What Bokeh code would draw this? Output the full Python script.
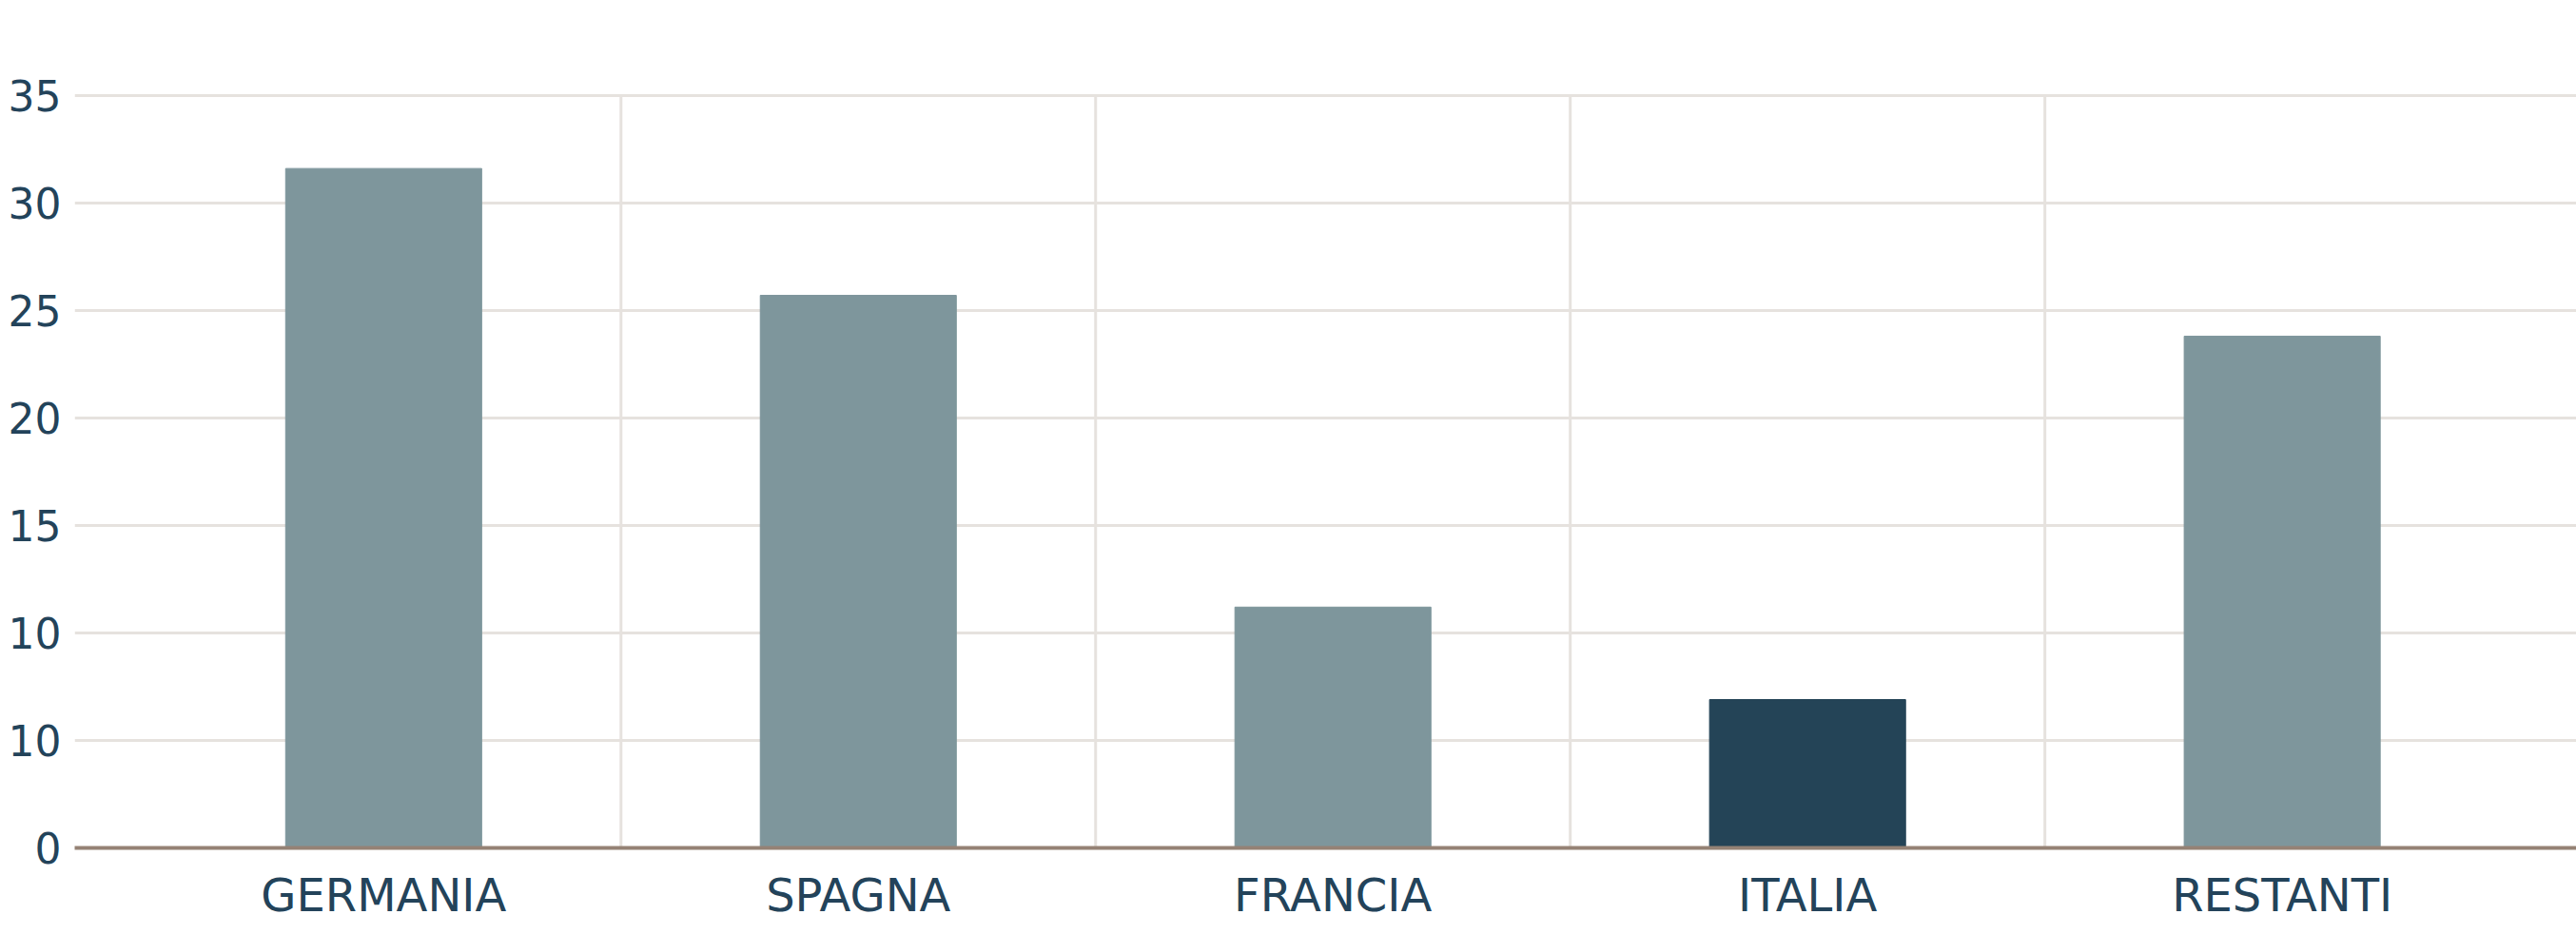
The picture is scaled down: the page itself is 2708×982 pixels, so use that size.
from bokeh.plotting import figure
from bokeh.models import Range1d, FixedTicker, ColumnDataSource
from bokeh.embed import file_html
from bokeh.resources import INLINE

# ---- data ----
categories = ["GERMANIA", "SPAGNA", "FRANCIA", "ITALIA", "RESTANTI"]
values = [31.6, 25.7, 11.2, 6.9, 23.8]
highlight = "ITALIA"
y_ticks = [0, 5, 10, 15, 20, 25, 30, 35]
y_tick_labels = ["0", "10", "10", "15", "20", "25", "30", "35"]

# ---- style ----
BAR = "#7e969c"
BAR_HI = "#244457"
TEXT = "#23435a"
GRID = "#e6e2de"
BASE = "#958275"

xs = list(range(len(categories)))
colors = [BAR_HI if c == highlight else BAR for c in categories]
src = ColumnDataSource(dict(x=xs, v=values, color=colors))

p = figure(width=2708, height=982, output_backend="svg", toolbar_location=None,
           x_range=Range1d(-0.651, 4.620), y_range=Range1d(0, 35.3),
           min_border_left=78, min_border_right=0, min_border_top=93,
           min_border_bottom=91)
p.outline_line_color = None
p.background_fill_color = "white"
p.border_fill_color = "white"

# vertical separators between categories
bounds = [i + 0.5 for i in xs[:-1]]
p.segment(x0=bounds, y0=[y_ticks[0]] * len(bounds), x1=bounds,
          y1=[y_ticks[-1]] * len(bounds), line_color=GRID, line_width=3)

p.vbar(x="x", top="v", bottom=0, width=0.413, color="color", source=src)

# y axis
p.yaxis.ticker = FixedTicker(ticks=y_ticks)
p.yaxis.major_label_overrides = {t: l for t, l in zip(y_ticks, y_tick_labels)}
p.yaxis.axis_line_color = None
p.yaxis.major_tick_line_color = None
p.yaxis.minor_tick_line_color = None
p.yaxis.major_label_standoff = 8
p.yaxis.major_label_text_font = "DejaVu Sans"
p.yaxis.major_label_text_font_size = "44px"
p.yaxis.major_label_text_color = TEXT

# x axis
p.xaxis.ticker = FixedTicker(ticks=xs)
p.xaxis.major_label_overrides = {i: c for i, c in zip(xs, categories)}
p.xaxis.axis_line_color = BASE
p.xaxis.axis_line_width = 4
p.xaxis.major_tick_line_color = None
p.xaxis.minor_tick_line_color = None
p.xaxis.major_label_standoff = 15
p.xaxis.major_label_text_font = "DejaVu Sans"
p.xaxis.major_label_text_font_size = "48px"
p.xaxis.major_label_text_color = TEXT

# grids
p.xgrid.visible = False
p.ygrid.ticker = FixedTicker(ticks=y_ticks)
p.ygrid.grid_line_color = GRID
p.ygrid.grid_line_width = 3

open("out.html", "w").write(file_html(p, INLINE))
